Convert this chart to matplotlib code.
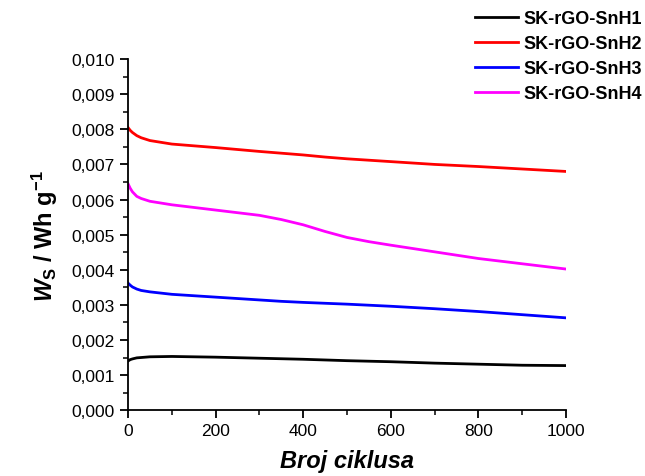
import matplotlib
matplotlib.use('Agg')
import matplotlib.pyplot as plt
from matplotlib.ticker import MultipleLocator, FuncFormatter

plt.rcParams['font.family'] = ['Liberation Sans', 'DejaVu Sans']
plt.rcParams['mathtext.fontset'] = 'custom'
plt.rcParams['mathtext.rm'] = 'Liberation Sans:bold'
plt.rcParams['mathtext.it'] = 'Liberation Sans:bold:italic'
plt.rcParams['mathtext.bf'] = 'Liberation Sans:bold'

# cycles and specific energy (Wh/g)
cycles = [0, 5, 10, 20, 30, 50, 100, 200, 300, 350, 400, 450, 500, 550, 600, 700, 800, 900, 1000]
snh1 = [0.00140, 0.00144, 0.00146, 0.00149, 0.00150, 0.00152, 0.00153, 0.00151, 0.00148, 0.001465,
        0.00145, 0.00143, 0.00141, 0.001395, 0.00138, 0.00134, 0.00131, 0.00128, 0.00127]
snh2 = [0.00805, 0.00797, 0.00791, 0.00782, 0.00776, 0.00768, 0.00758, 0.00748, 0.00737, 0.00732,
        0.00727, 0.00721, 0.00716, 0.00712, 0.00708, 0.00700, 0.00694, 0.00687, 0.00680]
snh3 = [0.00362, 0.00356, 0.00351, 0.00345, 0.00341, 0.00337, 0.00330, 0.00322, 0.00314, 0.00310,
        0.00307, 0.003045, 0.00302, 0.00299, 0.00296, 0.00289, 0.00281, 0.00272, 0.00263]
snh4 = [0.00645, 0.00632, 0.00622, 0.00609, 0.00603, 0.00595, 0.00585, 0.00570, 0.00555, 0.00543,
        0.00528, 0.00509, 0.00492, 0.00480, 0.00470, 0.00451, 0.00432, 0.00417, 0.00402]
labels = ['SK-rGO-SnH1', 'SK-rGO-SnH2', 'SK-rGO-SnH3', 'SK-rGO-SnH4']
colors = ['black', 'red', 'blue', 'magenta']

fig = plt.figure(figsize=(6.45, 4.77), dpi=100)
ax = fig.add_axes([0.1985, 0.138, 0.679, 0.736])

for ys, lab, c in zip([snh1, snh2, snh3, snh4], labels, colors):
    ax.plot(cycles, ys, color=c, lw=2.0, label=lab)

ax.set_xlim(0, 1000)
ax.set_ylim(0, 0.010)
ax.xaxis.set_major_locator(MultipleLocator(200))
ax.xaxis.set_minor_locator(MultipleLocator(100))
ax.yaxis.set_major_locator(MultipleLocator(0.001))
ax.yaxis.set_minor_locator(MultipleLocator(0.0005))
ax.yaxis.set_major_formatter(FuncFormatter(lambda v, p: f'{v:.3f}'.replace('.', ',')))
for s in ['top', 'right']:
    ax.spines[s].set_visible(False)
for s in ['left', 'bottom']:
    ax.spines[s].set_linewidth(1.3)
ax.tick_params(which='major', direction='out', length=6, width=1.3, labelsize=12.5)
ax.tick_params(which='minor', direction='out', length=3.5, width=1.1)

ax.set_xlabel('Broj ciklusa', fontsize=17, fontweight='bold', style='italic', labelpad=8)
ax.set_ylabel(r'$W_{\mathrm{S}}$ / Wh g$^{\mathrm{-1}}$', fontsize=17, fontweight='bold', labelpad=8)

fig.legend(loc='upper right', bbox_to_anchor=(1.012, 1.0), frameon=False,
           prop={'weight': 'bold', 'size': 13}, handlelength=2.4,
           handletextpad=0.3, labelspacing=0.45, borderaxespad=0.2)

fig.savefig('out.png', dpi=100)
